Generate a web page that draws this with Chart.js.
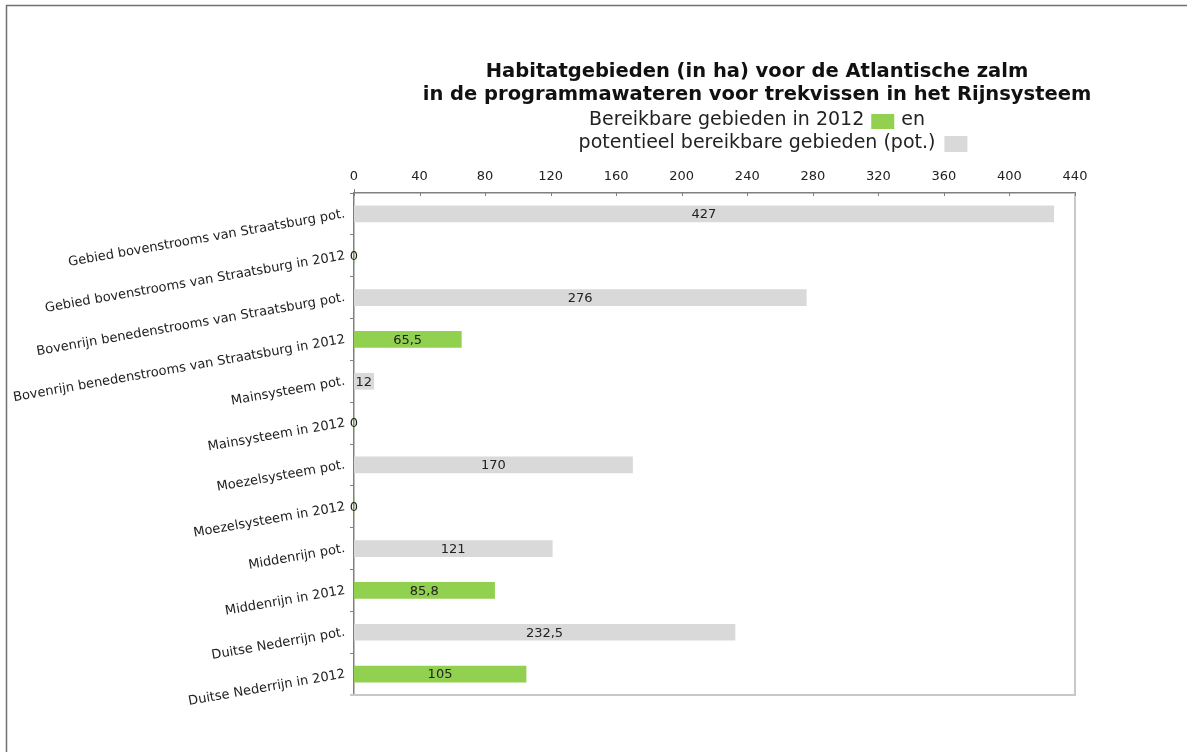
<!DOCTYPE html>
<html lang="nl">
<head>
<meta charset="utf-8">
<title>Habitatgebieden Atlantische zalm</title>
<script src="https://cdn.jsdelivr.net/npm/chart.js@4.4.1/dist/chart.umd.min.js"></script>
<style>
  html, body { margin: 0; padding: 0; background: #fff; overflow: hidden; }
  canvas { display: block; }
</style>
</head>
<body>
<canvas id="c" width="1187" height="752"></canvas>
<script>
// Categories, top to bottom
const categories = [
  'Gebied bovenstrooms van Straatsburg pot.',
  'Gebied bovenstrooms van Straatsburg in 2012',
  'Bovenrijn benedenstrooms van Straatsburg pot.',
  'Bovenrijn benedenstrooms van Straatsburg in 2012',
  'Mainsysteem pot.',
  'Mainsysteem in 2012',
  'Moezelsysteem pot.',
  'Moezelsysteem in 2012',
  'Middenrijn pot.',
  'Middenrijn in 2012',
  'Duitse Nederrijn pot.',
  'Duitse Nederrijn in 2012'
];
// Potentially reachable areas (ha)
const potValues = [427, null, 276, null, 12, null, 170, null, 121, null, 232.5, null];
// Areas reachable in 2012 (ha)
const values2012 = [null, 0, null, 65.5, null, 0, null, 0, null, 85.8, null, 105];
// Value axis ticks
const axisMin = 0, axisMax = 440, axisStep = 40;

const titleLines = [
  'Habitatgebieden (in ha) voor de Atlantische zalm',
  'in de programmawateren voor trekvissen in het Rijnsysteem'
];
const legendLine1 = ['Bereikbare gebieden in 2012', 'en'];
const legendLine2 = 'potentieel bereikbare gebieden (pot.)';

const GREEN = '#92d050';
const GREY = '#d9d9d9';
const FONT = '"DejaVu Sans", Verdana, sans-serif';

const fmt = v => String(v).replace('.', ',');

// Frame, heading, legend swatches, value labels and axis decorations
const decorPlugin = {
  id: 'decor',
  afterDraw(chart) {
    const ctx = chart.ctx;
    const area = chart.chartArea;
    const xs = chart.scales.x;
    ctx.save();

    // outer frame (top and left edge)
    ctx.strokeStyle = '#707070';
    ctx.lineWidth = 1.5;
    ctx.beginPath();
    ctx.moveTo(6.5, 760);
    ctx.lineTo(6.5, 5.5);
    ctx.lineTo(1200, 5.5);
    ctx.stroke();

    // right and bottom edge of plot area
    ctx.strokeStyle = '#c8c8c8';
    ctx.lineWidth = 2;
    ctx.beginPath();
    ctx.moveTo(area.right, area.top);
    ctx.lineTo(area.right, area.bottom);
    ctx.lineTo(area.left - 4, area.bottom);
    ctx.stroke();

    // small inward ticks on the value axis
    ctx.strokeStyle = '#808080';
    ctx.lineWidth = 1;
    ctx.beginPath();
    xs.ticks.forEach(t => {
      const px = Math.round(xs.getPixelForValue(t.value)) + 0.5;
      ctx.moveTo(px, area.top);
      ctx.lineTo(px, area.top + 3);
    });
    ctx.moveTo(area.left + 0.5, area.top - 4);
    ctx.lineTo(area.left + 0.5, area.top);
    ctx.stroke();

    // heading
    const cx = 757;
    ctx.fillStyle = '#111';
    ctx.textAlign = 'center';
    ctx.textBaseline = 'middle';
    ctx.font = 'bold 19.5px ' + FONT;
    ctx.fillText(titleLines[0], cx, 72);
    ctx.fillText(titleLines[1], cx, 95);

    // legend lines with colour swatches
    ctx.font = '19px ' + FONT;
    ctx.fillStyle = '#222';
    ctx.textAlign = 'left';
    const sw = 23, gap = 7;
    const w1a = ctx.measureText(legendLine1[0]).width;
    const w1b = ctx.measureText(legendLine1[1]).width;
    const total1 = w1a + gap + sw + gap + w1b;
    let x = cx - total1 / 2;
    ctx.fillText(legendLine1[0], x, 120);
    x += w1a + gap;
    ctx.fillStyle = GREEN;
    ctx.fillRect(x, 114, sw, 15);
    x += sw + gap;
    ctx.fillStyle = '#222';
    ctx.fillText(legendLine1[1], x, 120);

    const w2 = ctx.measureText(legendLine2).width;
    const x2 = cx - w2 / 2;
    ctx.fillText(legendLine2, x2, 143);
    ctx.fillStyle = GREY;
    ctx.fillRect(x2 + w2 + 9, 136, sw, 16);

    // value labels centred in each bar
    ctx.font = '13px ' + FONT;
    ctx.fillStyle = '#222';
    ctx.textAlign = 'center';
    ctx.textBaseline = 'middle';
    chart.data.datasets.forEach((ds, di) => {
      const meta = chart.getDatasetMeta(di);
      meta.data.forEach((bar, i) => {
        const v = ds.data[i];
        if (v === null || v === undefined) return;
        const px = (bar.x + bar.base) / 2;
        ctx.fillText(fmt(v), px, bar.y + 1);
      });
    });

    ctx.restore();
  }
};

new Chart(document.getElementById('c'), {
  type: 'bar',
  data: {
    labels: categories,
    datasets: [
      {
        label: 'pot.',
        data: potValues,
        backgroundColor: GREY,
        barThickness: 16
      },
      {
        label: 'in 2012',
        data: values2012,
        backgroundColor: GREEN,
        barThickness: 16
      }
    ]
  },
  options: {
    responsive: false,
    animation: false,
    indexAxis: 'y',
    grouped: false,
    skipNull: true,
    layout: { padding: { top: 160, right: 112, bottom: 57, left: 0 } },
    plugins: {
      legend: { display: false },
      title: { display: false },
      tooltip: { enabled: false }
    },
    scales: {
      x: {
        position: 'top',
        min: axisMin,
        max: axisMax,
        grid: { display: false, drawTicks: false },
        border: { display: true, color: '#808080', width: 1.5 },
        ticks: {
          stepSize: axisStep,
          padding: 9,
          color: '#222',
          font: { family: FONT, size: 13 }
        },
        afterFit(scale) { scale.height = 33; }
      },
      y: {
        grid: {
          display: true,
          offset: true,
          drawOnChartArea: false,
          drawTicks: true,
          tickLength: 4,
          color: '#808080'
        },
        border: { display: true, color: '#808080', width: 1.5 },
        ticks: {
          minRotation: 10,
          maxRotation: 10,
          padding: 5,
          color: '#222',
          font: { family: FONT, size: 13 }
        },
        afterFit(scale) { scale.width = 354; }
      }
    }
  },
  plugins: [decorPlugin]
});
</script>
</body>
</html>
